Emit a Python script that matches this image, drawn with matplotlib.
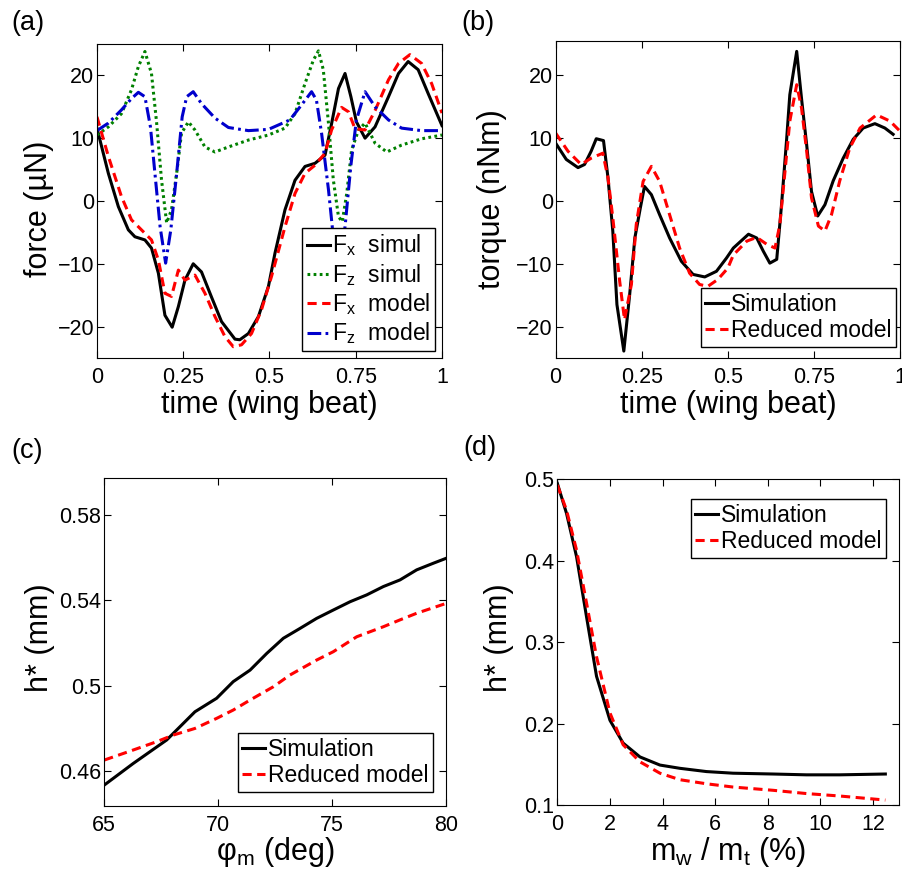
import numpy as np
import matplotlib.pyplot as plt

plt.rcParams['font.family'] = ['Liberation Sans', 'DejaVu Sans']
plt.rcParams['mathtext.fontset'] = 'custom'
plt.rcParams['mathtext.rm'] = 'Liberation Sans'
plt.rcParams['mathtext.it'] = 'Liberation Sans:italic'

# ---- panel (a): forces over one wing beat ----
fx_sim_t = [0, 0.033, 0.062, 0.091, 0.110, 0.139, 0.158, 0.178, 0.197, 0.218, 0.236, 0.255,
            0.279, 0.303, 0.332, 0.361, 0.400, 0.414, 0.439, 0.468, 0.497, 0.516, 0.545, 0.574,
            0.603, 0.632, 0.661, 0.680, 0.700, 0.719, 0.736, 0.752, 0.777, 0.806, 0.845, 0.874,
            0.902, 0.931, 0.960, 1.0]
fx_sim = [11.6, 4.4, -0.9, -4.6, -5.7, -6.2, -7.5, -11.5, -18.2, -20.1, -16.8, -12.6,
          -10.0, -11.3, -15.3, -19.2, -22.0, -22.1, -21.1, -18.4, -13.6, -8.3, -1.4, 3.3,
          5.5, 6.0, 7.3, 12.3, 17.9, 20.3, 16.6, 12.6, 10.0, 11.8, 16.6, 20.3,
          22.2, 20.9, 17.1, 12.0]

fz_sim_t = [0, 0.033, 0.071, 0.1, 0.12, 0.139, 0.158, 0.173, 0.187, 0.202, 0.216, 0.231,
            0.245, 0.265, 0.284, 0.313, 0.342, 0.381, 0.439, 0.497, 0.545, 0.574, 0.603,
            0.627, 0.642, 0.656, 0.671, 0.685, 0.700, 0.711, 0.724, 0.738, 0.758, 0.777,
            0.806, 0.840, 0.883, 0.941, 1.0]
fz_sim = [10.5, 11.8, 13.9, 17.7, 21.4, 23.8, 20.3, 12.4, 3.4, -3.5, -1.4, 4.4,
          10.8, 12.6, 11.3, 8.6, 7.8, 8.6, 9.7, 10.5, 11.6, 13.9, 18.7,
          22.4, 23.9, 20.9, 12.4, 3.4, -2.5, -3.3, 1.2, 8.1, 11.3, 12.4,
          9.2, 7.8, 8.9, 9.9, 10.5]

fx_mod_t = [0, 0.033, 0.071, 0.1, 0.129, 0.158, 0.178, 0.197, 0.216, 0.236, 0.255, 0.284,
            0.313, 0.342, 0.371, 0.395, 0.419, 0.448, 0.477, 0.506, 0.545, 0.574, 0.603,
            0.632, 0.661, 0.680, 0.709, 0.729, 0.748, 0.777, 0.806, 0.845, 0.874, 0.907,
            0.941, 0.970, 1.0]
fx_mod = [13.4, 7.1, 0.7, -3.0, -4.6, -6.2, -9.4, -14.7, -15.2, -11.0, -12.6, -11.8,
          -14.7, -18.4, -21.6, -23.2, -22.9, -21.1, -17.3, -12.0, -4.1, 1.2, 4.4,
          5.7, 7.6, 11.3, 14.9, 14.2, 11.5, 11.3, 14.4, 19.3, 21.9, 23.3,
          21.9, 18.7, 14.0]

fz_mod_t = [0, 0.033, 0.071, 0.1, 0.12, 0.139, 0.155, 0.168, 0.183, 0.199, 0.214, 0.231,
            0.247, 0.260, 0.279, 0.303, 0.342, 0.381, 0.439, 0.497, 0.559, 0.593, 0.622,
            0.636, 0.651, 0.671, 0.685, 0.704, 0.719, 0.736, 0.752, 0.777, 0.806, 0.845,
            0.883, 0.941, 1.0]
fz_mod = [11.2, 12.4, 14.5, 16.3, 17.3, 16.6, 11.8, 4.4, -4.1, -9.9, -4.6, 4.4,
          13.4, 16.6, 17.4, 15.5, 13.2, 11.7, 11.2, 11.4, 12.9, 15.3, 17.4,
          16.1, 10.8, 1.8, -5.7, -9.5, -4.1, 5.7, 12.9, 17.4, 15.0, 12.9,
          11.6, 11.2, 11.2]

# ---- panel (b): torque ----
tq_sim_t = [0, 0.031, 0.065, 0.084, 0.103, 0.118, 0.139, 0.152, 0.166, 0.178, 0.198, 0.215,
            0.230, 0.246, 0.258, 0.278, 0.302, 0.331, 0.365, 0.399, 0.433, 0.467, 0.496,
            0.516, 0.560, 0.584, 0.603, 0.622, 0.642, 0.656, 0.671, 0.680, 0.700, 0.714,
            0.729, 0.743, 0.761, 0.782, 0.806, 0.835, 0.864, 0.893, 0.927, 0.956, 0.980]
tq_sim = [9.2, 6.6, 5.3, 5.8, 7.9, 9.9, 9.6, 3.7, -4.8, -16.5, -23.9, -14.9,
          -5.9, -1.1, 2.3, 1.0, -2.2, -5.9, -9.6, -11.7, -12.1, -11.2, -9.1,
          -7.5, -5.3, -5.9, -8.0, -9.9, -9.3, -0.6, 10.0, 16.9, 23.8, 16.3,
          8.9, 1.5, -2.4, -0.6, 3.2, 6.8, 9.8, 11.6, 12.3, 11.6, 10.6]

tq_mod_t = [0, 0.036, 0.074, 0.103, 0.137, 0.152, 0.166, 0.186, 0.200, 0.220, 0.234, 0.254,
            0.278, 0.302, 0.331, 0.360, 0.389, 0.418, 0.442, 0.471, 0.500, 0.516, 0.555,
            0.584, 0.613, 0.637, 0.651, 0.666, 0.680, 0.700, 0.714, 0.729, 0.743, 0.763,
            0.782, 0.801, 0.825, 0.854, 0.884, 0.932, 0.971, 1.0]
tq_mod = [10.8, 7.9, 5.8, 6.8, 7.6, 3.7, -2.7, -12.8, -18.9, -13.3, -3.8, 3.1,
          5.5, 3.1, -2.2, -7.5, -11.5, -13.3, -13.6, -12.5, -10.7, -8.6, -6.4,
          -5.8, -6.9, -7.5, -3.8, 4.7, 12.7, 18.5, 14.8, 7.9, 0.5, -4.0,
          -4.8, -2.2, 3.2, 8.4, 11.6, 13.7, 12.7, 11.1]

# ---- panel (c): h* vs stroke amplitude ----
phi_sim = [65, 66.27, 67.74, 68.98, 69.93, 70.66, 71.4, 72.13, 72.86, 73.59, 74.32, 75.05,
           75.79, 76.52, 77.25, 77.98, 78.71, 79.44, 80]
h_phi_sim = [0.4536, 0.4637, 0.4747, 0.4879, 0.4942, 0.502, 0.5074, 0.5152, 0.5223, 0.5269,
             0.5316, 0.5355, 0.5394, 0.5426, 0.5465, 0.5496, 0.5543, 0.5574, 0.5597]
phi_mod = [65, 66.27, 67.3, 68.03, 68.98, 69.93, 70.66, 71.4, 72.42, 73.15, 74.32, 75.05,
           76.08, 77.25, 77.98, 78.71, 80]
h_phi_mod = [0.4653, 0.47, 0.4739, 0.477, 0.4801, 0.4848, 0.4887, 0.4934, 0.4996, 0.5051,
             0.5121, 0.516, 0.523, 0.5277, 0.5309, 0.534, 0.5386]

# ---- panel (d): h* vs wing mass ratio ----
mass = [0, 0.35, 0.73, 1.11, 1.49, 2.0, 2.5, 3.14, 3.9, 4.66, 5.67, 6.68, 8.2, 9.47, 10.73, 12.47]
h_mass_sim = [0.495, 0.458, 0.405, 0.331, 0.258, 0.204, 0.176, 0.159, 0.149, 0.145, 0.141,
              0.139, 0.138, 0.137, 0.137, 0.138]
h_mass_mod = [0.493, 0.462, 0.413, 0.348, 0.282, 0.213, 0.174, 0.153, 0.139, 0.131, 0.126,
              0.122, 0.118, 0.114, 0.111, 0.106]

RED = '#ff0000'
GREEN = '#008000'
BLUE = '#0000cc'
LW = 2.2
TICK_FS = 15.5
LEG_FS = 16.5
LAB_FS = 22

fig = plt.figure(figsize=(9.02, 8.74), dpi=100)
ax_a = fig.add_axes([0.1075, 0.5904, 0.3825, 0.3593])
ax_b = fig.add_axes([0.616, 0.5904, 0.3818, 0.3623])
ax_c = fig.add_axes([0.1156, 0.0778, 0.3789, 0.3753])
ax_d = fig.add_axes([0.6179, 0.079, 0.3791, 0.3726])


def style(ax):
    ax.tick_params(direction='in', top=True, right=True, length=5, width=0.8,
                   labelsize=TICK_FS)
    ax.tick_params(axis='x', pad=6.5)
    ax.tick_params(axis='y', pad=2)
    for s in ax.spines.values():
        s.set_linewidth(0.8)


def legend(ax, loc, anchor):
    leg = ax.legend(loc=loc, bbox_to_anchor=anchor, fontsize=LEG_FS, handlelength=1.0,
                    handletextpad=0.1, borderpad=0.2, labelspacing=0.15, borderaxespad=0,
                    fancybox=False, framealpha=1, edgecolor='black')
    leg.get_frame().set_linewidth(1.0)


def labels(ax, xlabel, ylabel, xy, yx, yy):
    ax.set_xlabel(xlabel, fontsize=LAB_FS, va='center')
    ax.xaxis.set_label_coords(0.5, xy)
    ax.set_ylabel(ylabel, fontsize=LAB_FS)
    ax.yaxis.set_label_coords(yx, yy)


# (a)
ax_a.plot(fx_sim_t, fx_sim, color='black', lw=LW, label=r'F$_\mathrm{x}$  simul')
ax_a.plot(fz_sim_t, fz_sim, color=GREEN, lw=LW, dashes=(0.9, 1.1), label=r'F$_\mathrm{z}$  simul')
ax_a.plot(fx_mod_t, fx_mod, color=RED, lw=LW, dashes=(3, 1.8), label=r'F$_\mathrm{x}$  model')
ax_a.plot(fz_mod_t, fz_mod, color=BLUE, lw=LW, dashes=(4.5, 1.4, 0.9, 1.4), label=r'F$_\mathrm{z}$  model')
ax_a.set_xlim(0, 1)
ax_a.set_ylim(-25, 25)
ax_a.set_xticks([0, 0.25, 0.5, 0.75, 1])
ax_a.set_xticklabels(['0', '0.25', '0.5', '0.75', '1'])
ax_a.set_yticks([-20, -10, 0, 10, 20])
labels(ax_a, 'time (wing beat)', 'force (µN)', -0.150, -0.125, 0.476)
style(ax_a)
legend(ax_a, 'lower right', (0.980, 0.022))

# (b)
ax_b.plot(tq_sim_t, tq_sim, color='black', lw=LW, label='Simulation')
ax_b.plot(tq_mod_t, tq_mod, color=RED, lw=LW, dashes=(3, 1.8), label='Reduced model')
ax_b.set_xlim(0, 1)
ax_b.set_ylim(-25, 25.4)
ax_b.set_xticks([0, 0.25, 0.5, 0.75, 1])
ax_b.set_xticklabels(['0', '0.25', '0.5', '0.75', '1'])
ax_b.set_yticks([-20, -10, 0, 10, 20])
labels(ax_b, 'time (wing beat)', 'torque (nNm)', -0.148, -0.141, 0.503)
style(ax_b)
legend(ax_b, 'lower right', (0.9875, 0.0356))

# (c)
ax_c.plot(phi_sim, h_phi_sim, color='black', lw=LW, label='Simulation')
ax_c.plot(phi_mod, h_phi_mod, color=RED, lw=LW, dashes=(3, 1.8), label='Reduced model')
ax_c.set_xlim(65, 80)
ax_c.set_ylim(0.4438, 0.5973)
ax_c.set_xticks([65, 70, 75, 80])
ax_c.set_yticks([0.46, 0.5, 0.54, 0.58])
ax_c.set_yticklabels(['0.46', '0.5', '0.54', '0.58'])
labels(ax_c, r'φ$_\mathrm{m}$ (deg)', 'h* (mm)', -0.139, -0.144, 0.514)
style(ax_c)
legend(ax_c, 'lower right', (0.961, 0.0436))

# (d)
ax_d.plot(mass, h_mass_sim, color='black', lw=LW, label='Simulation')
ax_d.plot(mass, h_mass_mod, color=RED, lw=LW, dashes=(3, 1.8), label='Reduced model')
ax_d.set_xlim(0, 13)
ax_d.set_ylim(0.1, 0.5)
ax_d.set_xticks([0, 2, 4, 6, 8, 10, 12])
ax_d.set_yticks([0.1, 0.2, 0.3, 0.4, 0.5])
labels(ax_d, r'm$_\mathrm{w}$ / m$_\mathrm{t}$ (%)', 'h* (mm)', -0.143, -0.127, 0.514)
style(ax_d)
legend(ax_d, 'upper right', (0.960, 0.9395))

for x, y, s in [(0.013, 0.9737, '(a)'), (0.512, 0.9737, '(b)'),
                (0.013, 0.484, '(c)'), (0.514, 0.487, '(d)')]:
    fig.text(x, y, s, fontsize=19.5, va='center', ha='left')

fig.savefig('out.png', dpi=100)
